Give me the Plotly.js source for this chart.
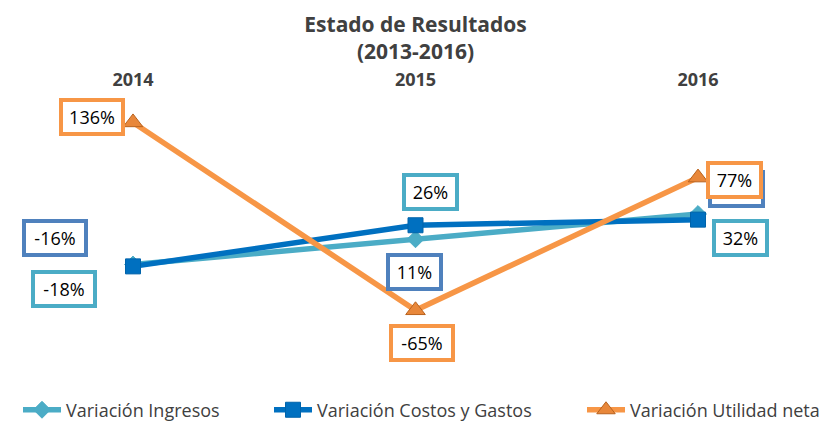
<!DOCTYPE html>
<html>
<head>
<meta charset="utf-8">
<script src="https://cdn.plot.ly/plotly-3.0.1.min.js"></script>
<style>html,body{margin:0;padding:0;background:#fff;}#chart{width:831px;height:421px;}</style>
</head>
<body>
<div id="chart"></div>
<script>
// ---- data ----
var years = ['2014', '2015', '2016'];
var seriesNames = ['Variación Ingresos', 'Variación Costos y Gastos', 'Variación Utilidad neta'];
var ingresos = [-16, 11, 38];
var costos = [-18, 26, 32];
var utilidad = [136, -65, 77];

// ---- styles ----
var lineColors = ['#4BACC6', '#0070C0', '#F79646'];
var labelBorders = ['#4F81BD', '#4BACC6', '#F79646'];
var symbols = ['diamond', 'square', 'triangle-up'];
var markerFill = ['#4BACC6', '#0070C0', '#E8873A'];
var markerLine = ['#4BACC6', '#0063AA', '#B8621E'];
var markerSize = [13, 15, 17];
var shifts = [
  [[-78, 27], [-1, -33], [38, 25]],
  [[-69, -23], [15, 33], [42, -18]],
  [[-41, 5], [6, -33], [36, -2]]
];
// label box that sits behind another one in the original (its text is not visible)
var coveredLabel = [[false, false, true], [false, false, false], [false, false, false]];
var FONT = 'Open Sans, Liberation Sans, Arial, sans-serif';

var allSeries = [ingresos, costos, utilidad];
var traces = allSeries.map(function (vals, i) {
  return {
    type: 'scatter', mode: 'lines+markers',
    x: years, y: vals, name: seriesNames[i],
    legend: i === 0 ? 'legend' : ('legend' + (i + 1)),
    line: {color: lineColors[i], width: 5.5},
    marker: {symbol: symbols[i], size: markerSize[i], color: markerFill[i], line: {color: markerLine[i], width: 1}},
    cliponaxis: false, hoverinfo: 'skip'
  };
});

var annotations = [];
allSeries.forEach(function (vals, i) {
  vals.forEach(function (v, j) {
    var txt = v + '%';
    annotations.push({
      x: j, y: v, xref: 'x', yref: 'y', showarrow: false,
      text: coveredLabel[i][j] ? ' ' : txt, xshift: shifts[i][j][0], yshift: shifts[i][j][1],
      font: {family: FONT, size: 18, color: '#000000'},
      bgcolor: '#FFFFFF', bordercolor: labelBorders[i], borderwidth: 4, borderpad: 3,
      width: txt.length >= 4 ? 52 : 43, height: 24
    });
  });
});

function legendDef(xpx) {
  return {
    orientation: 'h', xref: 'container', yref: 'container', x: xpx / 831, y: 0.026,
    xanchor: 'left', yanchor: 'middle', bgcolor: 'rgba(0,0,0,0)', borderwidth: 0,
    itemwidth: 38,
    font: {family: FONT, size: 18, color: '#404040'}
  };
}

var layout = {
  width: 831, height: 421,
  paper_bgcolor: '#FFFFFF', plot_bgcolor: '#FFFFFF',
  margin: {l: 20, r: 20, t: 100, b: 92},
  title: {
    text: '<b>Estado de Resultados<br>(2013-2016)</b>',
    font: {family: FONT, size: 21, color: '#404040'},
    x: 0.5, xanchor: 'center', xref: 'container', y: 0.924, yref: 'container', yanchor: 'top'
  },
  xaxis: {
    type: 'category', categoryorder: 'array', categoryarray: years,
    range: [-0.4, 2.4], side: 'top', showgrid: false, zeroline: false, showline: false,
    ticks: 'outside', ticklen: 6, tickcolor: 'rgba(0,0,0,0)',
    tickfont: {family: FONT, size: 18, color: '#404040', weight: 'bold'}
  },
  yaxis: {range: [-85, 160], visible: false, showgrid: false, zeroline: false},
  showlegend: true,
  legend: legendDef(18),
  legend2: legendDef(269),
  legend3: legendDef(582),
  annotations: annotations,
  font: {family: FONT}
};

Plotly.newPlot('chart', traces, layout, {displayModeBar: false, staticPlot: true});
</script>
</body>
</html>
